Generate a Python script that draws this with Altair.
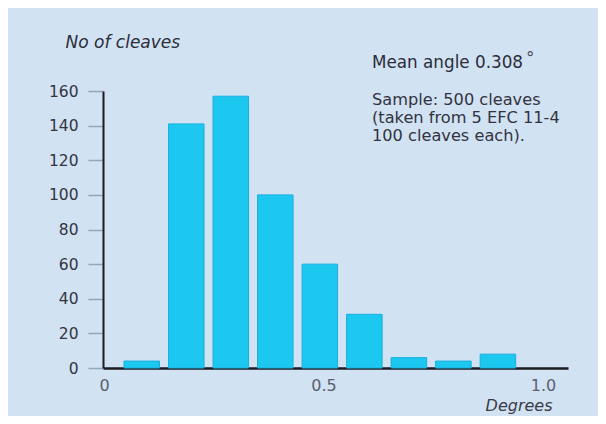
import altair as alt
import pandas as pd

# ---- data ----
bin_centres = [0.05, 0.15, 0.25, 0.35, 0.45, 0.55, 0.65, 0.75, 0.85]
cleave_counts = [4, 141, 157, 100, 60, 31, 6, 4, 8]
y_ticks = [0, 20, 40, 60, 80, 100, 120, 140, 160]
x_ticks = [0, 0.5, 1.0]
y_title = "No of cleaves"
x_title = "Degrees"
note_mean = "Mean angle 0.308"
note_degree = "°"
note_sample = ["Sample: 500 cleaves", "(taken from 5 EFC 11-4", "100 cleaves each)."]

FONT = "DejaVu Sans"
INK = "#2c2c38"
BG = "#d1e2f3"

bars_df = pd.DataFrame({"angle": bin_centres, "count": cleave_counts})
ticks_df = pd.DataFrame({"tick": x_ticks})
one_row = pd.DataFrame({"k": [0]})

bars = alt.Chart(bars_df).mark_bar(
    size=35.5, color="#1dc8f0", stroke="#1aaede", strokeWidth=1
).encode(
    x=alt.X("angle:Q",
            scale=alt.Scale(domain=[-0.0258, 0.9962], nice=False, zero=False),
            axis=None),
    y=alt.Y("count:Q",
            scale=alt.Scale(domain=[0, 160], nice=False),
            axis=alt.Axis(
                orient="left", values=y_ticks, grid=False,
                domainColor="#1b1b22", domainWidth=2,
                tickColor="#93a5bd", tickWidth=1.5, tickSize=15,
                labelPadding=10, labelFont=FONT, labelFontSize=15.5,
                labelColor="#34343f",
                title=y_title, titleAngle=0, titleAlign="left",
                titleBaseline="alphabetic", titleX=-38, titleY=-44,
                titleFont=FONT, titleFontSize=17, titleFontStyle="italic",
                titleFontWeight="normal", titleColor=INK,
            )),
)

x_axis_layer = alt.Chart(ticks_df).mark_point(opacity=0).encode(
    x=alt.X("tick:Q",
            scale=alt.Scale(domain=[-0.0023, 1.057], nice=False, zero=False),
            axis=alt.Axis(
                orient="bottom", values=x_ticks, grid=False, ticks=False,
                labelExpr="datum.value == 0 ? '0' : format(datum.value, '.1f')",
                labelFlush=False, labelPadding=9,
                labelFont=FONT, labelFontSize=16, labelColor="#5a606c",
                domainColor="#1b1b22", domainWidth=2.5,
                title=x_title, titleAlign="right", titleBaseline="alphabetic",
                titleX=449, titleY=42, titleFont=FONT, titleFontSize=16,
                titleFontStyle="italic", titleFontWeight="normal",
                titleColor="#3a3a46",
            )),
    y=alt.value(0),
)

mean_text = alt.Chart(one_row).mark_text(
    text=note_mean, align="left", baseline="alphabetic",
    font=FONT, fontSize=16.8, color=INK
).encode(x=alt.value(269), y=alt.value(-23))

degree_text = alt.Chart(one_row).mark_text(
    text=note_degree, align="left", baseline="alphabetic",
    font=FONT, fontSize=17, color="#4a4a58"
).encode(x=alt.value(423), y=alt.value(-27))

sample_text = alt.Chart(one_row).mark_text(
    text=note_sample, align="left", baseline="alphabetic", lineHeight=18,
    font=FONT, fontSize=16.2, color="#33333f"
).encode(x=alt.value(269), y=alt.value(14))

chart = alt.layer(
    bars, x_axis_layer, mean_text, degree_text, sample_text
).resolve_scale(x="independent").properties(
    width=465, height=277,
    padding={"left": 95, "top": 83, "right": 30, "bottom": 48},
    autosize=alt.AutoSizeParams(type="none"),
    background=BG,
).configure_view(stroke="transparent")

chart.save("out.html", embed_options={"renderer": "svg", "actions": False})
